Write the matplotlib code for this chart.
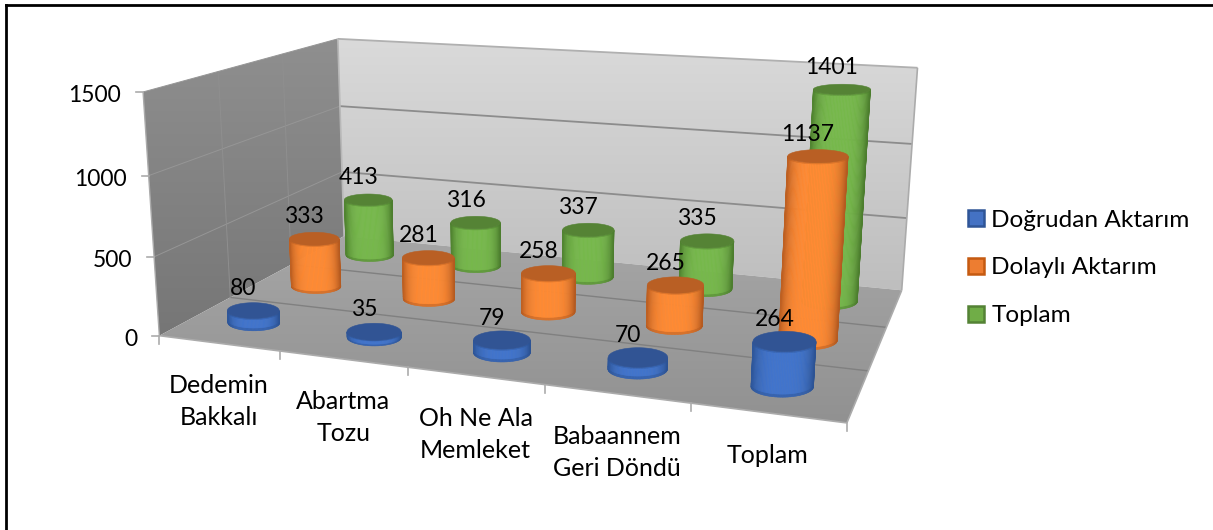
import numpy as np
import matplotlib
matplotlib.use('Agg')
import matplotlib.pyplot as plt
from matplotlib.collections import PolyCollection
from matplotlib.patches import Polygon, Patch

plt.rcParams['font.family'] = ['Lato', 'DejaVu Sans']

categories = ['Dedemin\nBakkalı', 'Abartma\nTozu', 'Oh Ne Ala\nMemleket', 'Babaannem\nGeri Döndü', 'Toplam']
series_names = ['Doğrudan Aktarım', 'Dolaylı Aktarım', 'Toplam']
dogrudan = [80, 35, 79, 70, 264]
dolayli = [333, 281, 258, 265, 1137]
toplam = [413, 316, 337, 335, 1401]
z_ticks = [0, 500, 1000, 1500]
z_max = 1500

# renkler: orta, kenar, kapak
body_colors = ['#4174CC', '#FF8A33', '#76B84B']
edge_colors = ['#2C5394', '#B45A20', '#4C7D2E']
cap_colors = ['#315494', '#B95F24', '#558335']
legend_face = ['#4472C4', '#ED7D31', '#70AD47']
legend_edge = ['#2F5597', '#C55A11', '#548235']

# kamera: kutunun köşelerinin resimdeki yerleri (u, v, w) -> piksel
box_world = [(0, 0, 1), (0, 1, 1), (1, 1, 1), (0, 0, 0), (0, 1, 0), (1, 1, 0), (1, 0, 0),
             (0, 1, 2/3), (0, 1, 1/3), (1, 1, 2/3), (1, 1, 1/3), (0, 0, 2/3), (0, 0, 1/3)]
box_pixels = [(143, 92), (338, 38), (917, 67), (160, 335), (343, 235), (902, 290), (847, 423),
              (341, 106), (342, 174), (912, 145), (907, 218), (148, 176), (154, 257)]


def fit_camera(world, pixels):
    rows = []
    for (u, v, w), (x, y) in zip(world, pixels):
        rows.append([u, v, w, 1, 0, 0, 0, 0, -x*u, -x*v, -x*w, -x])
        rows.append([0, 0, 0, 0, u, v, w, 1, -y*u, -y*v, -y*w, -y])
    _, _, vt = np.linalg.svd(np.array(rows, dtype=float))
    return vt[-1].reshape(3, 4)


P = fit_camera(box_world, box_pixels)


def proj(u, v, w):
    u, v, w = np.broadcast_arrays(np.asarray(u, float), np.asarray(v, float), np.asarray(w, float))
    pts = np.stack([u, v, w, np.ones_like(u)], axis=-1) @ P.T
    return pts[..., :2] / pts[..., 2:3]


def mix(c1, c2, t):
    a = np.array(matplotlib.colors.to_rgb(c1))
    b = np.array(matplotlib.colors.to_rgb(c2))
    return a * (1 - t) + b * t


def gradient_poly(ax, corners, c_top, c_bottom, zorder=1):
    corners = np.array(corners)
    grad = np.linspace(0, 1, 256)[:, None, None]
    img = np.array(matplotlib.colors.to_rgb(c_top)) * (1 - grad) + np.array(matplotlib.colors.to_rgb(c_bottom)) * grad
    x0, x1 = corners[:, 0].min(), corners[:, 0].max()
    y0, y1 = corners[:, 1].min(), corners[:, 1].max()
    im = ax.imshow(img, extent=(x0, x1, y1, y0), aspect='auto', zorder=zorder)
    im.set_clip_path(Polygon(corners, transform=ax.transData))


def ring(uc, vc, w, th, ru=0.0415):
    # halka ekranda düz elips: yükseldikçe daha basık
    cx, cy = proj(uc, vc, w)
    a = (proj(uc + ru, vc, w)[0] - proj(uc - ru, vc, w)[0]) / 2
    a = 0.8*a + 6.5
    b = a * np.clip(0.18 + 0.14*(cy - 90)/250, 0.16, 0.34)
    return np.column_stack([cx + a*np.cos(th), cy + b*np.sin(th)])


def draw_cylinder(ax, uc, vc, height, s):
    th = np.linspace(0, np.pi, 61)
    bev = min(0.012, height*0.3)
    levels = [(0, bev, 0.5), (bev, height - bev*0.4, 0.0), (height - bev*0.4, height, 0.4)]
    polys, cols = [], []
    for w0, w1, darken in levels:
        a = ring(uc, vc, w0, th)
        b = ring(uc, vc, w1, th)
        for i in range(len(th) - 1):
            frac = np.cos(0.5*(th[i] + th[i+1]))
            col = mix(body_colors[s], edge_colors[s], min(abs(frac + 0.03), 1)**4)
            col = mix(col, edge_colors[s], darken)
            polys.append([a[i], a[i+1], b[i+1], b[i]])
            cols.append(col)
    ax.add_collection(PolyCollection(polys, facecolors=cols, edgecolors=cols, linewidths=0.4, zorder=5))
    cap = ring(uc, vc, height, np.linspace(0, 2*np.pi, 121))
    ax.add_patch(Polygon(cap, closed=True, facecolor=cap_colors[s], edgecolor=cap_colors[s], lw=0.4, zorder=5))


fig = plt.figure(figsize=(12.13, 5.30), dpi=100)
ax = fig.add_axes([0, 0, 1, 1])
ax.axis('off')

# yalnız üst ve sol çerçeve
ax.plot([6, 1213], [5, 5], color='black', lw=2, zorder=1)
ax.plot([6, 6], [5, 530], color='black', lw=2, zorder=1)

# duvarlar ve taban
gradient_poly(ax, proj([0, 0, 0, 0], [0, 1, 1, 0], [1, 1, 0, 0]), '#8F8F8F', '#767676')
gradient_poly(ax, proj([0, 1, 1, 0], [1, 1, 1, 1], [1, 1, 0, 0]), '#DADADA', '#BEBEBE')
gradient_poly(ax, proj([0, 1, 1, 0], [1, 1, 0, 0], [0, 0, 0, 0]), '#A6A6A6', '#919191')
ax.set_xlim(0, 1213)
ax.set_ylim(530, 0)


def line3d(p0, p1, **kw):
    pts = proj(*np.array([p0, p1]).T)
    ax.plot(pts[:, 0], pts[:, 1], solid_capstyle='butt', **kw)


# ızgara çizgileri
for val in z_ticks[1:]:
    w = val / z_max
    line3d((0, 1, w), (1, 1, w), color='#8C8C8C' if val < z_max else '#B0B0B0', lw=1.3, zorder=2)
    line3d((0, 0, w), (0, 1, w), color='#969696', lw=0.7, zorder=2)
for v in (1/3, 2/3):
    line3d((0, v, 0), (1, v, 0), color='#808080', lw=1.0, zorder=2)
    line3d((0, v, 0), (0, v, 1), color='#8F8F8F', lw=0.7, zorder=2)

# kenarlar
edge_c = '#ABABAB'
line3d((0, 1, 0), (0, 1, 1), color='#B8B8B8', lw=1.2, zorder=2)
line3d((1, 1, 0), (1, 1, 1), color=edge_c, lw=1.2, zorder=2)
line3d((0, 0, 0), (0, 0, 1), color=edge_c, lw=1.0, zorder=2)
line3d((0, 0, 0), (1, 0, 0), color=edge_c, lw=1.2, zorder=2)
line3d((1, 0, 0), (1, 1, 0), color=edge_c, lw=1.2, zorder=2)

# eksen çentikleri ve etiketleri
for val in z_ticks:
    x, y = proj(0, 0, val / z_max)
    ax.plot([x - 7, x], [y, y], color=edge_c, lw=1.2, zorder=2)
    ax.text(x - 22, y + 4, str(val), ha='right', va='center', fontsize=16.5, color='black', zorder=8)
n_cat = len(categories)
for i in range(n_cat + 1):
    x, y = proj(i / n_cat, 0, 0)
    ax.plot([x, x], [y, y + 8], color=edge_c, lw=1.2, zorder=2)
for i, name in enumerate(categories):
    x, y = proj((i + 0.5) / n_cat, 0, 0)
    ax.text(x, y + 31, name, ha='center', va='top', fontsize=18, linespacing=1.47, color='black', zorder=8)

# silindirler: arkadan öne
all_series = [dogrudan, dolayli, toplam]
for s in (2, 1, 0):
    for i, val in enumerate(all_series[s]):
        draw_cylinder(ax, (i + 0.5) / n_cat, (s + 0.5) / 3, val / z_max, s)
for s in range(3):
    for i, val in enumerate(all_series[s]):
        x, y = proj((i + 0.5) / n_cat, (s + 0.5) / 3, val / z_max)
        ax.text(x - 10, y - 22, str(val), ha='center', va='center', fontsize=16.5, color='black', zorder=9)

handles = [Patch(facecolor=f, edgecolor=e, lw=1.8) for f, e in zip(legend_face, legend_edge)]
ax.legend(handles, series_names, loc='center left', bbox_to_anchor=(968, 268),
          bbox_transform=ax.transData, frameon=False, fontsize=17.6, handlelength=0.65, handleheight=0.65,
          handletextpad=0.3, labelspacing=1.1, borderpad=0, borderaxespad=0)

plt.savefig('out.png', dpi=100)
plt.close()
